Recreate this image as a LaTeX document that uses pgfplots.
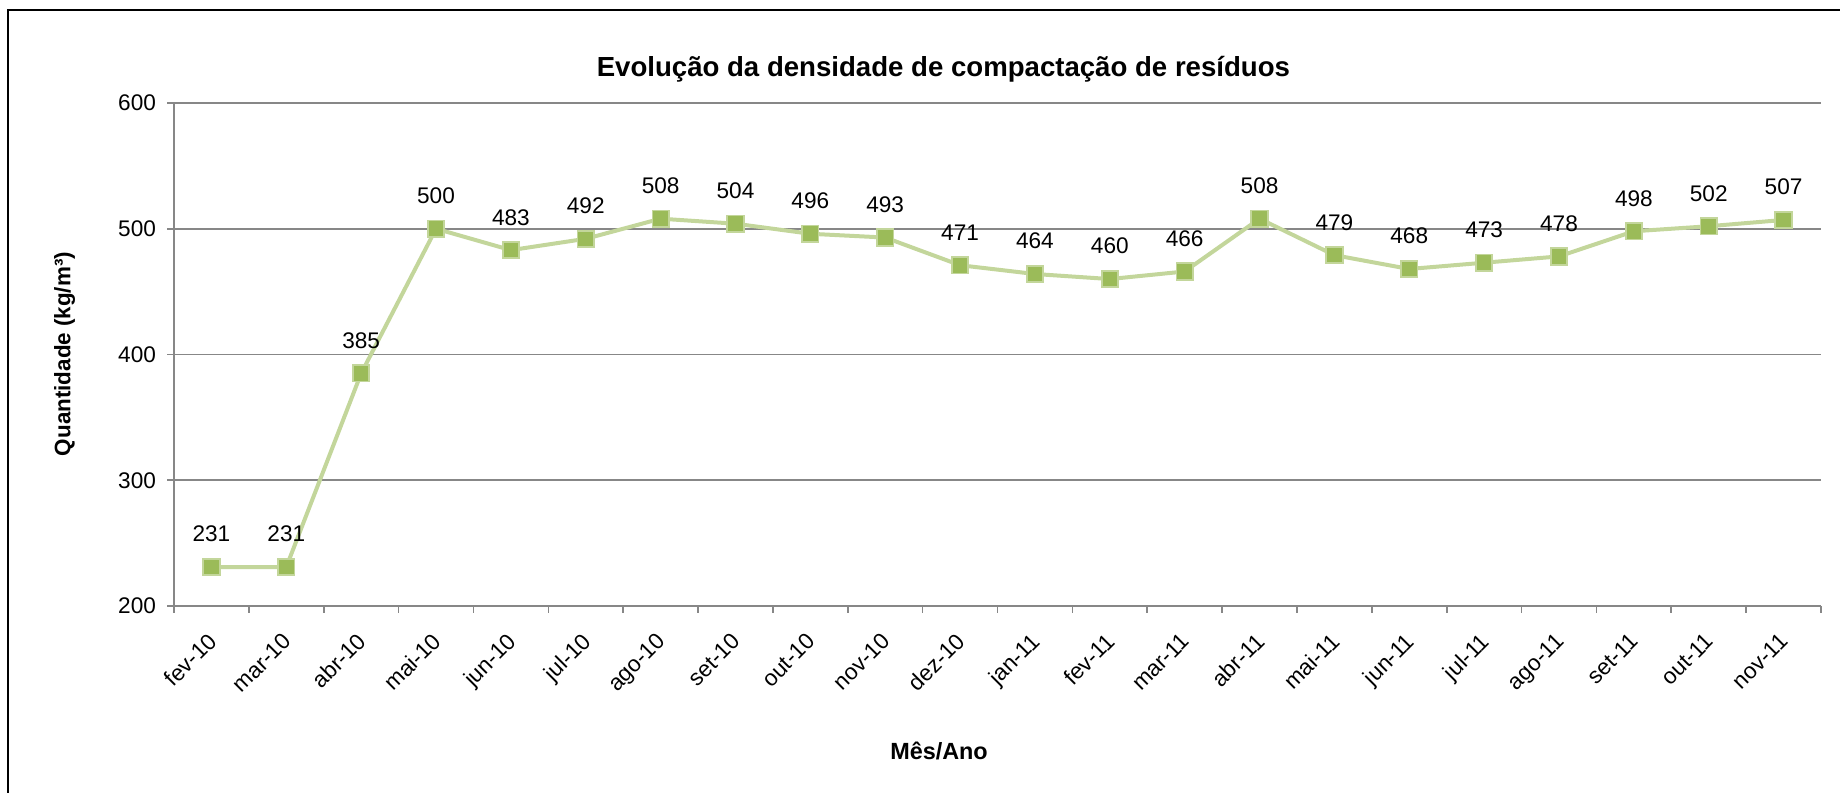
\documentclass[border=0pt]{standalone}
\usepackage{pgfplots}
\pgfplotsset{compat=1.18}
\usepackage{fontspec}
\setmainfont{Liberation Sans}
\definecolor{linegreen}{HTML}{C3D69B}
\definecolor{markgreen}{HTML}{9BBB59}
\definecolor{gridgray}{HTML}{878787}
\begin{document}
\begin{tikzpicture}
\useasboundingbox (0,0) rectangle (920pt,396pt);
\draw[line width=1.3pt] (4pt,-20pt) -- (4pt,391pt) -- (940pt,391pt);
\begin{axis}[
  at={(87pt,93pt)}, anchor=south west,
  scale only axis, width=823.5pt, height=251.5pt,
  xmin=-0.5, xmax=21.5, ymin=200, ymax=600,
  axis x line=bottom, axis y line=left,
  axis line style={gridgray, line width=0.8pt, -},
  xtick={-0.5,0.5,...,21.5},
  x tick label as interval,
  xticklabels={fev-10,mar-10,abr-10,mai-10,jun-10,jul-10,ago-10,set-10,out-10,nov-10,dez-10,jan-11,fev-11,mar-11,abr-11,mai-11,jun-11,jul-11,ago-11,set-11,out-11,nov-11},
  ytick={200,300,400,500,600},
  ymajorgrids, grid style={gridgray, line width=0.8pt},
  major tick style={gridgray, line width=0.8pt},
  tick align=outside, major tick length=3.5pt,
  tick label style={font=\fontsize{11.3}{13}\selectfont, black},
  xticklabel style={xshift=-2.5pt, yshift=-9pt, rotate=45, anchor=north east, inner sep=0pt},
  yticklabel style={xshift=-2pt},
  /pgf/number format/assume math mode=true,
  nodes near coords,
  every node near coord/.append style={font=\fontsize{11.3}{13}\selectfont, black, anchor=south, inner sep=0pt, yshift=12pt},
  clip=false,
]
\addplot[color=linegreen, line width=2pt, mark=square*, mark size=4.1pt,
  mark options={fill=markgreen, draw=linegreen, line width=0.9pt}]
coordinates {
(0,231) (1,231) (2,385) (3,500) (4,483) (5,492) (6,508) (7,504) (8,496) (9,493) (10,471)
(11,464) (12,460) (13,466) (14,508) (15,479) (16,468) (17,473) (18,478) (19,498) (20,502) (21,507)
};
\end{axis}
\node[font=\fontsize{13.8}{16}\selectfont\bfseries] at (471.7pt,361.3pt) {Evolução da densidade de compactação de resíduos};
\node[font=\fontsize{11.2}{13}\selectfont\bfseries, rotate=90] at (32.3pt,219pt) {Quantidade (kg/m³)};
\node[font=\fontsize{11.7}{14}\selectfont\bfseries] at (469.5pt,20.5pt) {Mês/Ano};
\end{tikzpicture}
\end{document}
